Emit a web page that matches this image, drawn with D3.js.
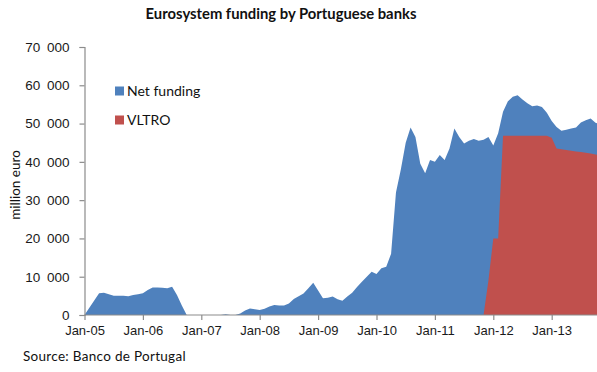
<!DOCTYPE html>
<html>
<head>
<meta charset="utf-8">
<script src="https://cdnjs.cloudflare.com/ajax/libs/d3/7.8.5/d3.min.js"></script>
<style>
  html, body { margin: 0; padding: 0; background: #fff; }
  svg { display: block; font-family: Lato, "Open Sans", sans-serif; }
</style>
</head>
<body>
<div id="chart"></div>
<script>
// Monthly series, million euro, starting January 2005
const startMonth = "2005-01";
const netFunding = [
  0, 1900, 3800, 5700, 5800, 5400, 5000, 5000, 5000, 4900, 5200, 5400,
  5700, 6500, 7200, 7200, 7100, 7000, 7400, 5200, 2500, 0, 0, 0,
  0, 0, 0, 0, 0, 200, 0, 0, 400, 1200, 1700, 1500,
  1300, 1600, 2200, 2600, 2500, 2500, 3000, 4200, 4900, 5600, 7000, 8400,
  6400, 4400, 4500, 4800, 4100, 3700, 4800, 5800, 7300, 8700, 10000, 11300,
  10700, 12200, 12600, 16000, 32000, 38000, 45000, 49000, 46500, 39500, 37000, 40500,
  40000, 41800, 40500, 43500, 48700, 46500, 44800, 45500, 46000, 45500, 45800, 46500,
  44300, 47500, 53100, 55800, 57000, 57400, 56300, 55300, 54500, 54700, 54300, 52800,
  50700, 49100, 48100, 48400, 48700, 49000, 50300, 50900, 51300, 50200, 49800
];
const vltro = [
  ...Array(82).fill(null),
  0, 9000, 20000, 20000, 46800, 46800, 46800, 46800, 46800, 46800, 46800, 46800,
  46800, 46800, 46300, 43500, 43300, 43100, 42900, 42700, 42600, 42400, 42200, 41900, 41800
];
const yearLabels = ["Jan-05", "Jan-06", "Jan-07", "Jan-08", "Jan-09", "Jan-10", "Jan-11", "Jan-12", "Jan-13"];
const yTicks = [0, 10000, 20000, 30000, 40000, 50000, 60000, 70000];
const seriesNames = ["Net funding", "VLTRO"];
const colors = ["#4F81BD", "#C0504D"];

const W = 597, H = 372;
const svg = d3.select("#chart").append("svg").attr("width", W).attr("height", H);

// Category axis: one slot per month, a labelled tick every January
const monthsShown = 108;
const x = d3.scaleLinear().domain([0, monthsShown]).range([84.5, 84.5 + monthsShown * 58.4 / 12]);
const y = d3.scaleLinear().domain([0, 70000]).range([315, 47]);

const area = d3.area()
  .defined(d => d.v !== null)
  .x(d => x(d.i))
  .y0(y(0))
  .y1(d => y(d.v));

const asPoints = arr => arr.map((v, i) => ({ i, v }));

svg.append("path").datum(asPoints(netFunding))
  .attr("d", area).attr("fill", colors[0]);
svg.append("path").datum(asPoints(vltro))
  .attr("d", area).attr("fill", colors[1]);

// Axes (thousands separated by a space)
const fmt = v => d3.format(",")(v).replace(/,/g, "\u2002");
const yAxis = svg.append("g").attr("transform", "translate(84.5,0)")
  .call(d3.axisLeft(y).tickValues(yTicks).tickSize(5).tickPadding(10).tickFormat(fmt));
const xAxis = svg.append("g").attr("transform", "translate(0,315)")
  .call(d3.axisBottom(x).tickValues(yearLabels.map((d, k) => k * 12)).tickSize(5).tickPadding(6)
    .tickFormat((d, k) => yearLabels[k]));
[yAxis, xAxis].forEach(g => {
  g.select(".domain").attr("stroke", "#8c8c8c").attr("stroke-width", 1.2);
  g.selectAll(".tick line").attr("stroke", "#8c8c8c").attr("stroke-width", 1.2);
  g.selectAll(".tick text").attr("fill", "#1a1a1a");
});
yAxis.selectAll(".tick text").attr("font-size", 13.5);
xAxis.selectAll(".tick text").attr("font-size", 13);
xAxis.select(".domain").attr("d", `M${x(0)},0H${W}`);

// Title
svg.append("text").attr("x", 281).attr("y", 19).attr("text-anchor", "middle")
  .attr("font-weight", "bold").attr("font-size", 14.8).attr("fill", "#111")
  .text("Eurosystem funding by Portuguese banks");

// Y axis title
svg.append("text").attr("transform", "translate(20,185) rotate(-90)")
  .attr("text-anchor", "middle").attr("font-size", 13.5).attr("fill", "#111")
  .text("million euro");

// Legend
const legend = svg.append("g");
seriesNames.forEach((name, k) => {
  const cy = 91 + k * 29;
  legend.append("rect").attr("x", 115).attr("y", cy - 4.5).attr("width", 9).attr("height", 9).attr("fill", colors[k]);
  legend.append("text").attr("x", 127).attr("y", cy).attr("dy", "0.36em")
    .attr("font-size", 14).attr("fill", "#111").text(name);
});

// Source note
svg.append("text").attr("x", 23).attr("y", 361).attr("font-size", 13.5).attr("fill", "#111")
  .attr("letter-spacing", 0.3)
  .text("Source: Banco de Portugal");
</script>
</body>
</html>
